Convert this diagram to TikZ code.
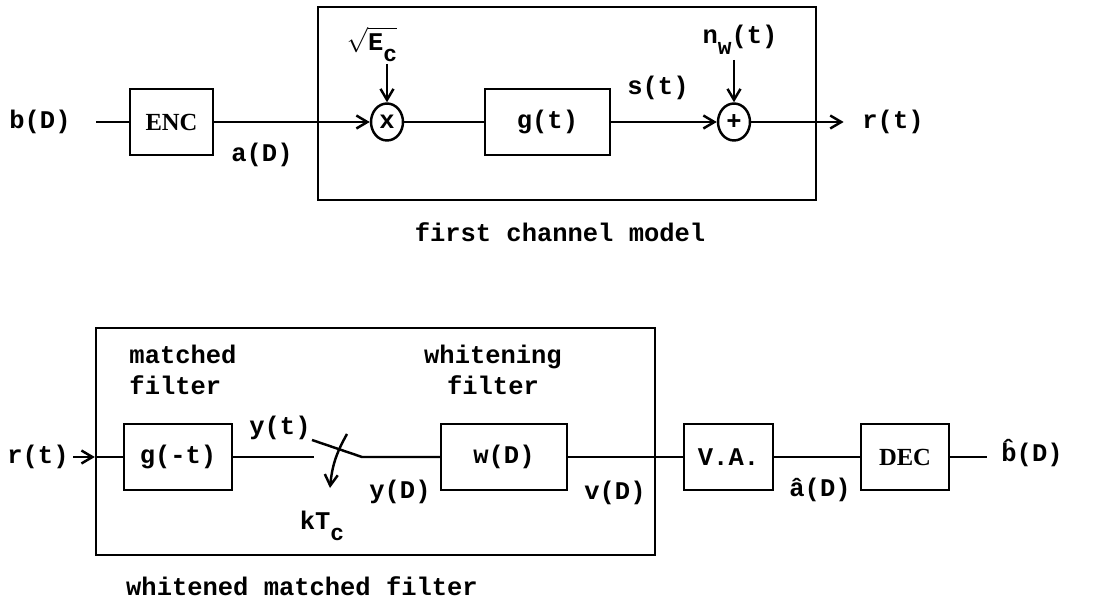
\documentclass[tikz,border=0pt]{standalone}
\usepackage{fontspec}
\usepackage{amsmath}
\setmainfont{Liberation Mono}
\newfontfamily\blockfont{Liberation Serif}
\newcommand{\lowsub}[1]{\raisebox{-0.45em}{\fontsize{13}{15}\selectfont #1}}
\usetikzlibrary{shapes.geometric, arrows.meta, positioning, calc}
\tikzset{every node/.append style={align=center, inner sep=2pt}}

\begin{document}
\begin{tikzpicture}[x=0.02cm, y=-0.02cm, line width=1.4pt,
    font=\fontsize{14.5}{18}\selectfont\bfseries,
    blk/.style={rectangle, draw, minimum height=1.32cm},
    sum/.style={ellipse, draw, minimum width=0.64cm, minimum height=0.74cm, inner sep=0pt},
    frame/.style={rectangle, draw},
    a/.style={-{Straight Barb[length=2.2mm, width=2.6mm]}}]
\useasboundingbox (0,0) rectangle (1113,601);

% first channel model
\node[frame, minimum width=9.96cm, minimum height=3.86cm] (chan) at (567,103.5) {};
\node (bin) at (40,122) {b(D)};
\node[blk, minimum width=1.66cm, font=\fontsize{14}{15}\selectfont\blockfont\bfseries] (enc) at (171.5,122) {ENC};
\node[sum] (mult) at (387,122) {x};
\node[blk, minimum width=2.5cm] (gt) at (547.5,122) {g(t)};
\node[sum] (add) at (734,122) {+};
\node (rout) at (893,122) {r(t)};
\node (sqe) at (372,40) {$\sqrt{\text{E\smash{\lowsub{c}}}}$};
\node (nw) at (740,40) {n\lowsub{w}(t)};
\node (ad) at (262,155) {a(D)};
\node (st) at (658,88) {s(t)};
\node (chanlbl) at (560,232) {first channel model};

\draw ([xshift=12pt]bin.east) -- (enc);
\draw[a] (enc) -- (mult);
\draw (mult) -- (gt);
\draw[a] (gt) -- (add);
\draw[a] (add) -- ([xshift=-8pt]rout.west);
\draw[a] (mult |- 0,64) -- (mult.north);
\draw[a] (add |- 0,60) -- (add.north);

% whitened matched filter
\node[frame, minimum width=11.18cm, minimum height=4.54cm] (wmf) at (375.5,441.5) {};
\node (rin) at (38,457) {r(t)};
\node[blk, minimum width=2.16cm] (gmt) at (178,457) {g(-t)};
\coordinate (sw1) at (314,457);
\coordinate (sw2) at (362,457);
\node[blk, minimum width=2.52cm] (wd) at (504,457) {w(D)};
\node[blk, minimum width=1.78cm] (va) at (728.5,457) {V.A.};
\node[blk, minimum width=1.76cm, font=\fontsize{14}{15}\selectfont\blockfont\bfseries] (dec) at (905,457) {DEC};
\node (bout) at (1032,453) {\^{b}(D)};
\node[align=left] (mflbl) at (183,370) {matched\\filter};
\node (wflbl) at (493,370) {whitening\\filter};
\node (yt) at (280,428) {y(t)};
\node (yd) at (400,492) {y(D)};
\node (kt) at (322,526) {kT\lowsub{c}};
\node (vd) at (615,493) {v(D)};
\node (ah) at (820,490) {\^{a}(D)};
\node (wmflbl) at (302,586) {whitened matched filter};

\draw[a] (rin) -- (wmf.west |- rin);
\draw (wmf.west |- rin) -- (gmt);
\draw (gmt) -- (sw1);
\draw ($(sw1)+(-2,-17)$) -- (sw2) -- (wd);
\draw[a] (347,434) to[bend right=12] (330,488);
\draw (wd) -- (va);
\draw (va) -- (dec);
\draw (dec) -- (dec.east -| 987,0);
\end{tikzpicture}
\end{document}
